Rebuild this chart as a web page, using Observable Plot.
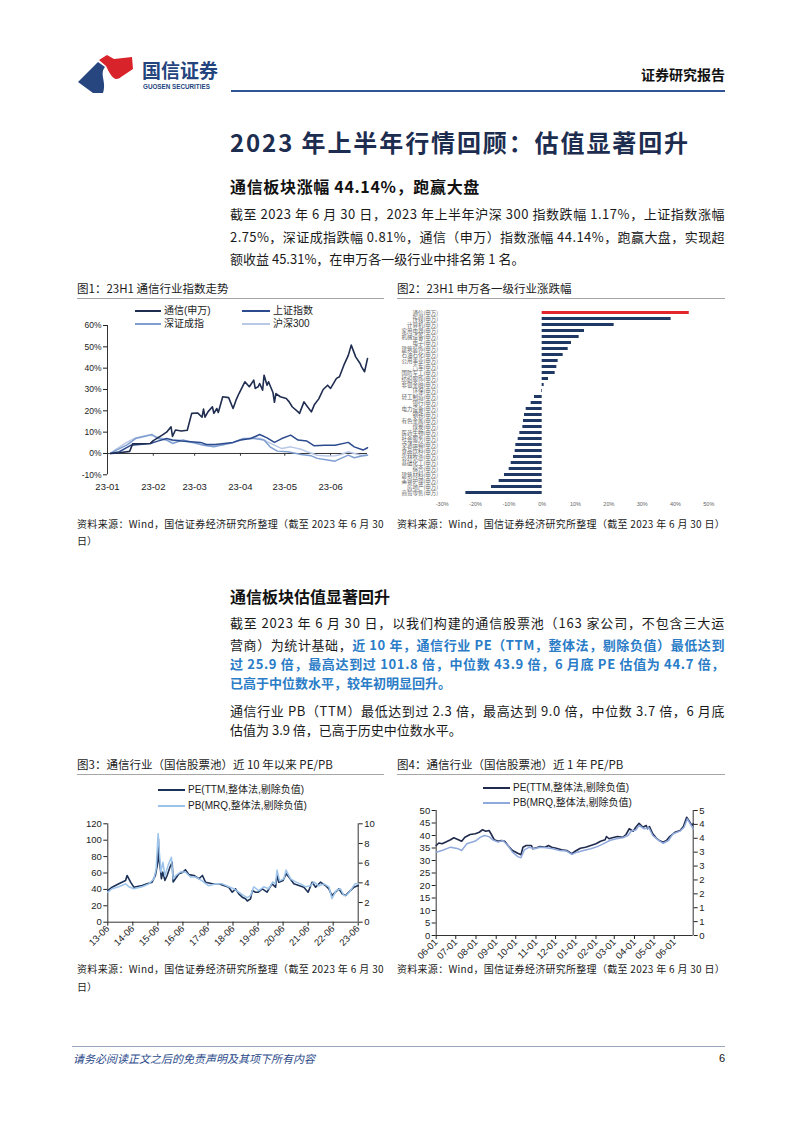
<!DOCTYPE html>
<html><head><meta charset="utf-8">
<script src="https://cdn.jsdelivr.net/npm/d3@7"></script>
<script src="https://cdn.jsdelivr.net/npm/@observablehq/plot@0.6"></script>
<style>
html,body{margin:0;padding:0;background:#fff}
body{position:relative;width:802px;height:1133px;overflow:hidden}
.abs{position:absolute}
</style></head>
<body>
<svg class="abs" style="left:76px;top:52px" width="64" height="44" viewBox="0 0 64 44">
  <path d="M2,30 L22,10 L29,15 C23,22 31,30 27,41 L17,41 Z" fill="#27467f"/>
  <path d="M23,8 L31,3 L38,7 L56,5 L57,17 L45,25 C38,31 34,22 30,14 Z" fill="#d8232a"/>
</svg>
<script>
// ---------------- DATA ----------------
// Fig 1: 23H1 index performance (%), dates are 2023 MM-DD
const tongxin = [["01-03",0],["01-09",0.3],["01-16",1.0],["01-18",4.5],["01-30",4.7],["02-01",6.0],["02-07",8.6],["02-10",10.0],["02-13",12.5],["02-14",8.0],["02-16",11.0],["02-20",10.5],["02-24",10.9],["02-27",18.8],["03-03",19.0],["03-06",17.0],["03-07",20.8],["03-08",17.0],["03-10",19.5],["03-13",21.9],["03-14",18.8],["03-16",21.1],["03-17",19.2],["03-20",26.6],["03-24",26.2],["03-27",21.1],["03-29",25.0],["03-31",28.1],["04-04",33.6],["04-07",31.3],["04-10",34.4],["04-11",30.5],["04-13",31.3],["04-14",32.8],["04-16",29.7],["04-17",36.7],["04-19",32.0],["04-20",33.6],["04-23",28.6],["04-24",24.0],["04-25",28.1],["04-28",26.6],["05-02",25.8],["05-04",24.2],["05-06",21.9],["05-10",19.5],["05-11",18.8],["05-14",24.2],["05-16",22.3],["05-19",19.5],["05-21",22.8],["05-24",25.6],["05-27",30.0],["05-30",32.0],["06-01",30.5],["06-05",35.2],["06-07",36.0],["06-10",41.4],["06-13",46.0],["06-15",50.8],["06-18",45.3],["06-21",42.2],["06-22",40.6],["06-24",38.3],["06-26",44.5]];
const shangzheng = [["01-03",0],["01-09",0.8],["01-17",3.9],["01-30",4.7],["02-04",5.8],["02-10",7.0],["02-14",6.3],["02-20",5.8],["02-26",5.5],["03-05",5.2],["03-09",4.2],["03-15",4.2],["03-21",4.7],["03-27",5.2],["04-01",6.3],["04-08",7.0],["04-14",8.9],["04-19",7.3],["04-24",5.2],["04-29",7.0],["05-05",8.6],["05-10",6.3],["05-16",5.8],["05-21",3.6],["05-28",3.9],["06-04",3.9],["06-13",5.2],["06-17",3.1],["06-23",1.6],["06-26",2.7]];
const shenzheng = [["01-03",0],["01-07",1.6],["01-14",3.9],["01-20",7.0],["01-28",8.3],["01-31",8.9],["02-04",7.0],["02-10",6.3],["02-14",4.7],["02-21",6.3],["02-28",5.2],["03-07",3.9],["03-14",3.1],["03-21",4.2],["03-27",5.2],["04-03",7.0],["04-10",7.0],["04-17",6.3],["04-21",3.1],["04-26",1.1],["05-03",0.8],["05-12",-0.5],["05-19",-1.1],["05-23",-2.3],["05-30",-3.1],["06-04",-3.6],["06-08",-2.3],["06-13",-0.8],["06-17",-2.0],["06-22",-1.2],["06-26",-0.8]];
const hs300 = [["01-03",0],["01-07",2.0],["01-14",5.2],["01-20",7.3],["01-28",8.6],["02-01",8.3],["02-06",7.3],["02-12",5.8],["02-19",6.3],["02-26",5.2],["03-05",4.2],["03-12",3.6],["03-18",3.9],["03-25",4.7],["04-01",6.3],["04-08",7.3],["04-15",7.0],["04-19",5.5],["04-24",3.9],["04-29",2.3],["05-05",3.1],["05-12",2.0],["05-16",0.8],["05-23",-0.8],["05-30",-1.2],["06-04",-1.1],["06-08",-0.5],["06-13",0.8],["06-17",0.0],["06-22",-0.8],["06-26",-0.75]];
const fig1YTicks = [-10,0,10,20,30,40,50,60];
const fig1XTicks = ["2023-01-01","2023-02-01","2023-03-01","2023-04-01","2023-05-01","2023-06-01"];

// Fig 2: SW level-1 industries 23H1 change (%)
const industries = ["通信","传媒","计算机","家用电器","机械设备","电子","建筑装饰","石油石化","公用事业","汽车","国防军工","纺织服饰","非银金融","环保","轻工制造","银行","电力设备","钢铁","有色金属","煤炭","医药生物","社会服务","交通运输","食品饮料","农林牧渔","基础化工","综合","建筑材料","美容护理","房地产","商贸零售"];
const industryChange = [44.14,38.7,21.6,12.7,11.1,8.8,7.8,6.3,4.8,4.4,3.9,1.9,0.6,-0.2,-2.3,-3.3,-4.8,-5.3,-5.6,-5.8,-6.7,-7.2,-7.9,-8.1,-8.6,-9.3,-9.9,-11.3,-12.9,-15.2,-22.9];
const fig2XTicks = [-30,-20,-10,0,10,20,30,40,50];

// Fig 3: 10-year PE / PB (x = decimal year)
const pe10 = [[2013.50,38.6],[2013.67,42.7],[2013.94,46.8],[2014.21,50.9],[2014.27,57],[2014.41,48.8],[2014.54,42.7],[2014.87,44.8],[2015.07,46.8],[2015.27,48.8],[2015.40,57],[2015.50,73],[2015.52,101.8],[2015.54,81],[2015.60,65],[2015.64,53],[2015.70,61],[2015.78,51],[2015.87,57],[2015.98,67],[2016.07,73],[2016.11,49],[2016.20,53],[2016.34,59],[2016.50,61],[2016.60,64],[2016.74,58],[2016.94,57],[2017.14,53],[2017.28,57],[2017.40,48.8],[2017.67,46.8],[2017.93,46.8],[2018.13,44.8],[2018.33,42.7],[2018.47,36.6],[2018.60,40.7],[2018.73,34.6],[2018.87,30.5],[2019.00,28.5],[2019.07,25.9],[2019.20,28.5],[2019.27,38.6],[2019.40,36.6],[2019.51,36.6],[2019.67,40.7],[2019.86,36.6],[2020.06,46.8],[2020.20,42.7],[2020.26,57],[2020.33,48.8],[2020.50,50.9],[2020.62,59],[2020.73,55],[2020.93,46.8],[2021.13,44.8],[2021.33,42.7],[2021.50,36.6],[2021.66,48.8],[2021.80,42.7],[2021.99,48.8],[2022.19,44.8],[2022.33,40.7],[2022.45,32.5],[2022.59,36.6],[2022.73,40.7],[2022.86,34.6],[2022.99,32.5],[2023.13,36.6],[2023.33,42.7],[2023.50,44.7]];
const pb10 = [[2013.50,3.05],[2013.67,3.4],[2013.94,3.6],[2014.21,3.9],[2014.34,3.6],[2014.54,3.4],[2014.87,3.6],[2015.14,3.9],[2015.34,4.4],[2015.43,5.4],[2015.51,9.0],[2015.56,7.1],[2015.62,5.1],[2015.70,6.1],[2015.78,4.7],[2015.91,5.8],[2016.04,6.6],[2016.11,4.4],[2016.20,4.7],[2016.40,5.1],[2016.60,5.1],[2016.80,4.6],[2017.00,4.6],[2017.27,4.2],[2017.53,3.7],[2017.80,3.9],[2018.07,3.9],[2018.33,3.6],[2018.53,3.4],[2018.73,3.05],[2018.93,2.7],[2019.07,2.5],[2019.20,2.7],[2019.33,3.6],[2019.53,3.2],[2019.73,3.6],[2019.93,3.4],[2020.09,4.1],[2020.20,3.9],[2020.26,5.3],[2020.36,4.2],[2020.53,4.4],[2020.62,5.3],[2020.80,4.4],[2021.00,4.1],[2021.20,3.9],[2021.40,3.6],[2021.60,3.7],[2021.73,4.1],[2021.93,3.7],[2022.13,3.9],[2022.33,3.6],[2022.45,2.4],[2022.62,3.2],[2022.79,3.4],[2022.93,2.7],[2023.06,2.8],[2023.19,3.2],[2023.37,3.9],[2023.50,3.9]];
const fig3XTicks = [2013.5,2014.5,2015.5,2016.5,2017.5,2018.5,2019.5,2020.5,2021.5,2022.5,2023.5];
const fig3PETicks = [0,20,40,60,80,100,120];
const fig3PBTicks = [0,2,4,6,8,10];

// Fig 4: 1-year PE / PB
const pe1y = [["2022-06-01",36],["2022-06-05",37],["2022-06-10",36.7],["2022-06-15",37.3],["2022-06-23",38.3],["2022-06-28",39.1],["2022-07-05",38.3],["2022-07-10",37.7],["2022-07-15",39.3],["2022-07-23",40.4],["2022-07-31",40.7],["2022-08-06",41.3],["2022-08-11",42.3],["2022-08-16",41.7],["2022-08-21",42],["2022-08-24",40.7],["2022-08-29",38.3],["2022-09-04",37.7],["2022-09-09",38],["2022-09-14",37.7],["2022-09-19",36],["2022-09-26",34],["2022-10-04",32.9],["2022-10-09",32.3],["2022-10-12",35.3],["2022-10-17",36],["2022-10-25",36],["2022-10-27",34.7],["2022-11-02",35.1],["2022-11-07",35.6],["2022-11-15",35.3],["2022-11-20",36],["2022-11-25",35.3],["2022-12-02",34.9],["2022-12-10",34.3],["2022-12-18",34],["2022-12-26",32.7],["2022-12-31",33.7],["2023-01-08",34.9],["2023-01-16",35.3],["2023-01-24",36],["2023-02-01",36.7],["2023-02-08",37.7],["2023-02-15",38.3],["2023-02-17",39.6],["2023-02-21",38.7],["2023-02-26",39.1],["2023-03-06",39.6],["2023-03-14",39.3],["2023-03-19",40.4],["2023-03-24",42.7],["2023-03-30",41.7],["2023-04-03",43.3],["2023-04-08",44.9],["2023-04-14",43.3],["2023-04-19",44],["2023-04-21",42.7],["2023-04-24",43.6],["2023-04-29",40.7],["2023-05-04",39.1],["2023-05-09",38],["2023-05-15",37.3],["2023-05-20",38],["2023-05-25",39.6],["2023-06-02",41.3],["2023-06-10",42],["2023-06-15",43.6],["2023-06-20",47.3],["2023-06-25",45.3],["2023-06-28",44],["2023-06-30",44.7]];
const pb1y = [["2022-06-01",3.0],["2022-06-10",3.06],["2022-06-23",3.18],["2022-07-05",3.12],["2022-07-10",3.06],["2022-07-18",3.3],["2022-07-31",3.4],["2022-08-08",3.54],["2022-08-14",3.6],["2022-08-21",3.56],["2022-08-27",3.44],["2022-09-04",3.36],["2022-09-11",3.42],["2022-09-19",3.24],["2022-09-26",3.0],["2022-10-04",2.84],["2022-10-09",2.8],["2022-10-14",3.08],["2022-10-22",3.18],["2022-10-30",3.12],["2022-11-07",3.18],["2022-11-17",3.16],["2022-11-27",3.12],["2022-12-07",3.06],["2022-12-18",3.04],["2022-12-26",2.92],["2023-01-03",3.0],["2023-01-13",3.06],["2023-01-24",3.12],["2023-02-03",3.2],["2023-02-12",3.3],["2023-02-22",3.42],["2023-03-04",3.48],["2023-03-14",3.52],["2023-03-22",3.6],["2023-03-27",3.76],["2023-04-03",3.8],["2023-04-08",3.96],["2023-04-16",3.84],["2023-04-23",3.88],["2023-04-29",3.6],["2023-05-07",3.44],["2023-05-15",3.32],["2023-05-23",3.42],["2023-05-30",3.66],["2023-06-10",3.76],["2023-06-16",3.9],["2023-06-21",4.2],["2023-06-26",4.0],["2023-06-30",3.84]];
const fig4XTicks = ["2022-06-01","2022-07-01","2022-08-01","2022-09-01","2022-10-01","2022-11-01","2022-12-01","2023-01-01","2023-02-01","2023-03-01","2023-04-01","2023-05-01","2023-06-01"];
const fig4PETicks = [0,5,10,15,20,25,30,35,40,45,50];
const fig4PBTicks = [0,0.5,1,1.5,2,2.5,3,3.5,4,4.5];

// ---------------- LAYOUT HELPERS ----------------
const CJK = '"Noto Sans CJK SC","Noto Sans",sans-serif';
const LAT = '"Liberation Sans",Arial,"Noto Sans CJK SC",sans-serif';

function addText(html, o) {
  const d = document.createElement("div");
  d.innerHTML = html;
  Object.assign(d.style, {
    position: "absolute", whiteSpace: "nowrap", fontSize: o.size + "px",
    lineHeight: (o.size * 1.12) + "px", fontWeight: o.bold ? "700" : "400",
    color: o.color || "#1a1a1a", fontFamily: o.font || CJK,
    fontStyle: o.italic ? "italic" : "normal", left: "0px", top: "0px"
  });
  document.body.appendChild(d);
  if (o.fit) {
    const w0 = d.getBoundingClientRect().width;
    const n = d.textContent.length;
    d.style.letterSpacing = ((o.fit - w0) / n) + "px";
  }
  const w = d.getBoundingClientRect().width;
  d.style.top = (o.cy - o.size * 0.56) + "px";
  d.style.left = (o.right != null ? o.right - w : o.x) + "px";
  return d;
}
function hline(x1, x2, y, color, h) {
  const d = document.createElement("div");
  Object.assign(d.style, {position: "absolute", left: x1 + "px", top: y + "px", width: (x2 - x1) + "px", height: (h || 1) + "px", background: color});
  document.body.appendChild(d);
}
function legendItem(x1, x2, cy, color, label, lw) {
  hline(x1, x2, cy - (lw || 2) / 2, color, lw || 2);
  addText(label, {x: x2 + 3, cy, size: 10, color: "#222", font: LAT});
}
function place(svg, left, top) {
  const d = document.createElement("div");
  Object.assign(d.style, {position: "absolute", left: left + "px", top: top + "px"});
  d.appendChild(svg);
  document.body.appendChild(d);
}
const BLUE = "#2a7cc7";

// ---------------- HEADER / TEXT ----------------
addText("国信证券", {x: 142, cy: 70, size: 19, bold: true, color: "#24447e"});
addText("GUOSEN SECURITIES", {x: 143, cy: 87, size: 6.3, bold: true, color: "#24447e", font: LAT});
addText("证券研究报告", {right: 725, cy: 75, size: 14, bold: true, color: "#111"});
hline(231, 725, 90, "#2f5597", 2);

addText("2023 年上半年行情回顾：估值显著回升", {x: 230, cy: 142, size: 24, bold: true, color: "#1d2d50", fit: 460});
addText("通信板块涨幅 44.14%，跑赢大盘", {x: 230, cy: 187, size: 16, bold: true, color: "#111", fit: 250});

const bodyS = 13;
addText("截至 2023 年 6 月 30 日，2023 年上半年沪深 300 指数跌幅 1.17%，上证指数涨幅", {x: 230, cy: 214, size: bodyS, fit: 495});
addText("2.75%，深证成指跌幅 0.81%，通信（申万）指数涨幅 44.14%，跑赢大盘，实现超", {x: 230, cy: 237, size: bodyS, fit: 495});
addText("额收益 45.31%，在申万各一级行业中排名第 1 名。", {x: 230, cy: 259, size: bodyS});

addText("图1：23H1 通信行业指数走势", {x: 77, cy: 288, size: 11.5});
addText("图2：23H1 申万各一级行业涨跌幅", {x: 397, cy: 288, size: 11.5});
hline(77, 384, 298, "#a6a6a6", 1);
hline(397, 725, 298, "#a6a6a6", 1);

addText("资料来源：Wind，国信证券经济研究所整理（截至 2023 年 6 月 30", {x: 77, cy: 524, size: 10, fit: 307});
addText("日）", {x: 77, cy: 541, size: 10});
addText("资料来源：Wind，国信证券经济研究所整理（截至 2023 年 6 月 30 日）", {x: 397, cy: 524, size: 10, fit: 328});

addText("通信板块估值显著回升", {x: 230, cy: 597, size: 16, bold: true, color: "#111"});
addText("截至 2023 年 6 月 30 日，以我们构建的通信股票池（163 家公司，不包含三大运", {x: 230, cy: 623, size: bodyS, fit: 495});
addText('营商）为统计基础，<b style="color:' + BLUE + '">近 10 年，通信行业 PE（TTM，整体法，剔除负值）最低达到</b>', {x: 230, cy: 645, size: bodyS, fit: 495});
addText('<b style="color:' + BLUE + '">过 25.9 倍，最高达到过 101.8 倍，中位数 43.9 倍，6 月底 PE 估值为 44.7 倍，</b>', {x: 230, cy: 664, size: bodyS, fit: 495});
addText('<b style="color:' + BLUE + '">已高于中位数水平，较年初明显回升。</b>', {x: 230, cy: 683, size: bodyS});
addText("通信行业 PB（TTM）最低达到过 2.3 倍，最高达到 9.0 倍，中位数 3.7 倍，6 月底", {x: 230, cy: 711, size: bodyS, fit: 495});
addText("估值为 3.9 倍，已高于历史中位数水平。", {x: 230, cy: 730, size: bodyS});

addText("图3：通信行业（国信股票池）近 10 年以来 PE/PB", {x: 77, cy: 764, size: 11.5});
addText("图4：通信行业（国信股票池）近 1 年 PE/PB", {x: 397, cy: 764, size: 11.5});
hline(77, 384, 774, "#a6a6a6", 1);
hline(397, 725, 774, "#a6a6a6", 1);

addText("资料来源：Wind，国信证券经济研究所整理（截至 2023 年 6 月 30", {x: 77, cy: 969, size: 10, fit: 307});
addText("日）", {x: 77, cy: 987, size: 10});
addText("资料来源：Wind，国信证券经济研究所整理（截至 2023 年 6 月 30 日）", {x: 397, cy: 969, size: 10, fit: 328});

hline(72, 725, 1046, "#9aa7bb", 1);
addText("请务必阅读正文之后的免责声明及其项下所有内容", {x: 73, cy: 1058, size: 11, italic: true, color: "#2b4a8a"});
addText("6", {right: 725, cy: 1058, size: 11, font: LAT, color: "#111"});

// ---------------- FIG 1 ----------------
const C_TX = "#1f2d50", C_SZ = "#2c4b8e", C_SC = "#7f9ed0", C_HS = "#b9c8e6";
legendItem(135, 161, 310.5, C_TX, "通信(申万)");
legendItem(242, 270, 310.5, C_SZ, "上证指数");
legendItem(135, 161, 323.5, C_SC, "深证成指");
legendItem(242, 270, 323.5, C_HS, "沪深300");

const d23 = s => new Date("2023-" + s);
const fig1 = Plot.plot({
  width: 310, height: 180, marginLeft: 32, marginRight: 18, marginTop: 7, marginBottom: 23.7,
  style: {fontFamily: LAT, fontSize: "9px", color: "#222", background: "transparent", overflow: "visible"},
  x: {type: "utc", domain: [new Date("2023-01-01"), new Date("2023-06-26")]},
  y: {domain: [-10, 60]},
  marks: [
    Plot.ruleY([0], {stroke: "#333", strokeWidth: 1}),
    Plot.ruleX(fig1XTicks.map(s => new Date(s)), {y1: 0, y2: -1.3, stroke: "#333"}),
    Plot.ruleX([new Date("2023-01-01")], {stroke: "#333"}),
    Plot.axisY({ticks: fig1YTicks, tickFormat: d => d + "%", tickSize: 4, tickPadding: 2, label: null, fontSize: 8.5}),
    Plot.axisX({ticks: fig1XTicks.map(s => new Date(s)), tickFormat: d3.utcFormat("%y-%m"), tickSize: 0, tickPadding: 8, label: null, fontSize: 9.5}),
    Plot.line(hs300, {x: d => d23(d[0]), y: d => d[1], stroke: C_HS, strokeWidth: 1.5}),
    Plot.line(shenzheng, {x: d => d23(d[0]), y: d => d[1], stroke: C_SC, strokeWidth: 1.5}),
    Plot.line(shangzheng, {x: d => d23(d[0]), y: d => d[1], stroke: C_SZ, strokeWidth: 1.5}),
    Plot.line(tongxin, {x: d => d23(d[0]), y: d => d[1], stroke: C_TX, strokeWidth: 1.6})
  ]
});
place(fig1, 75, 318);

// ---------------- FIG 2 ----------------
const fig2data = industries.map((n, i) => ({name: n, v: industryChange[i]}));
const fig2 = Plot.plot({
  width: 335, height: 210, marginLeft: 46.7, marginRight: 21.7, marginTop: 4.6, marginBottom: 14.6,
  style: {fontFamily: CJK, fontSize: "5.5px", color: "#555", background: "transparent", overflow: "visible"},
  x: {domain: [-30, 50]},
  y: {domain: industries, padding: 0.46},
  marks: [
    Plot.barX(fig2data.filter(d => d.name !== "通信"), {x: "v", y: "name", fill: "#1f3864"}),
    Plot.barX(fig2data.filter(d => d.name === "通信"), {x: "v", y: "name", fill: "#e3262b"}),
    Plot.axisY({tickSize: 0, tickPadding: 4, label: null, tickFormat: d => d + "(申万)", fontSize: 5.5, fill: "#666"}),
    Plot.axisX({ticks: fig2XTicks, tickFormat: d => d + "%", tickSize: 0, tickPadding: 3, label: null, fontSize: 5.5, fontFamily: LAT, fill: "#666"})
  ]
});
place(fig2, 395, 303);

// ---------------- FIG 3 ----------------
const C_PE3 = "#1b3158", C_PB3 = "#9cc3ea";
legendItem(158, 185, 789.5, C_PE3, "PE(TTM,整体法,剔除负值)");
legendItem(158, 185, 805.5, C_PB3, "PB(MRQ,整体法,剔除负值)");
const f3 = fig3PETicks[fig3PETicks.length - 1] / fig3PBTicks[fig3PBTicks.length - 1];
const fig3 = Plot.plot({
  width: 310, height: 140, marginLeft: 32.3, marginRight: 27.3, marginTop: 8.3, marginBottom: 33.3,
  style: {fontFamily: LAT, fontSize: "9.5px", color: "#222", background: "transparent", overflow: "visible"},
  x: {domain: [2013.5, 2023.5]},
  y: {domain: [0, 120]},
  marks: [
    Plot.ruleX([2013.5], {stroke: "#333"}),
    Plot.ruleX([2023.5], {stroke: "#333"}),
    Plot.ruleY([0], {stroke: "#333"}),
    Plot.axisY({ticks: fig3PETicks, tickSize: 4, tickPadding: 2, label: null}),
    Plot.axisY({anchor: "right", ticks: fig3PBTicks.map(v => v * f3), tickFormat: d => String(Math.round(d / f3)), tickSize: 4, tickPadding: 2, label: null}),
    Plot.axisX({ticks: fig3XTicks, tickFormat: d => String(Math.floor(d)).slice(2) + "-06", tickRotate: -45, tickSize: 4, tickPadding: 1, label: null}),
    Plot.line(pe10, {x: d => d[0], y: d => d[1], stroke: C_PE3, strokeWidth: 1.6}),
    Plot.line(pb10, {x: d => d[0], y: d => d[1] * f3, stroke: C_PB3, strokeWidth: 1.5})
  ]
});
place(fig3, 75, 815);

// ---------------- FIG 4 ----------------
const C_PE4 = "#1f2a4d", C_PB4 = "#8fa9dc";
legendItem(483, 510, 787.5, C_PE4, "PE(TTM,整体法,剔除负值)");
legendItem(483, 510, 803, C_PB4, "PB(MRQ,整体法,剔除负值)");
const f4 = fig4PETicks[fig4PETicks.length - 1] / fig4PBTicks[fig4PBTicks.length - 1];
const fig4 = Plot.plot({
  width: 335, height: 165, marginLeft: 40.7, marginRight: 37.3, marginTop: 10, marginBottom: 30,
  style: {fontFamily: LAT, fontSize: "9.5px", color: "#222", background: "transparent", overflow: "visible"},
  x: {type: "utc", domain: [new Date("2022-06-01"), new Date("2023-06-30")]},
  y: {domain: [0, 50]},
  marks: [
    Plot.ruleX([new Date("2022-06-01")], {stroke: "#333"}),
    Plot.ruleX([new Date("2023-06-30")], {stroke: "#333"}),
    Plot.ruleY([0], {stroke: "#333"}),
    Plot.axisY({ticks: fig4PETicks, tickSize: 4, tickPadding: 2, label: null}),
    Plot.axisY({anchor: "right", ticks: fig4PBTicks.map(v => v * f4), tickFormat: d => String(Math.round(d / f4 + 1e-9)), tickSize: 4, tickPadding: 2, label: null}),
    Plot.axisX({ticks: fig4XTicks.map(s => new Date(s)), tickFormat: d3.utcFormat("%m-%d"), tickRotate: -45, tickSize: 4, tickPadding: 1, label: null}),
    Plot.line(pe1y, {x: d => new Date(d[0]), y: d => d[1], stroke: C_PE4, strokeWidth: 1.6}),
    Plot.line(pb1y, {x: d => new Date(d[0]), y: d => d[1] * f4, stroke: C_PB4, strokeWidth: 1.5})
  ]
});
place(fig4, 395, 800);
</script>
</body></html>
